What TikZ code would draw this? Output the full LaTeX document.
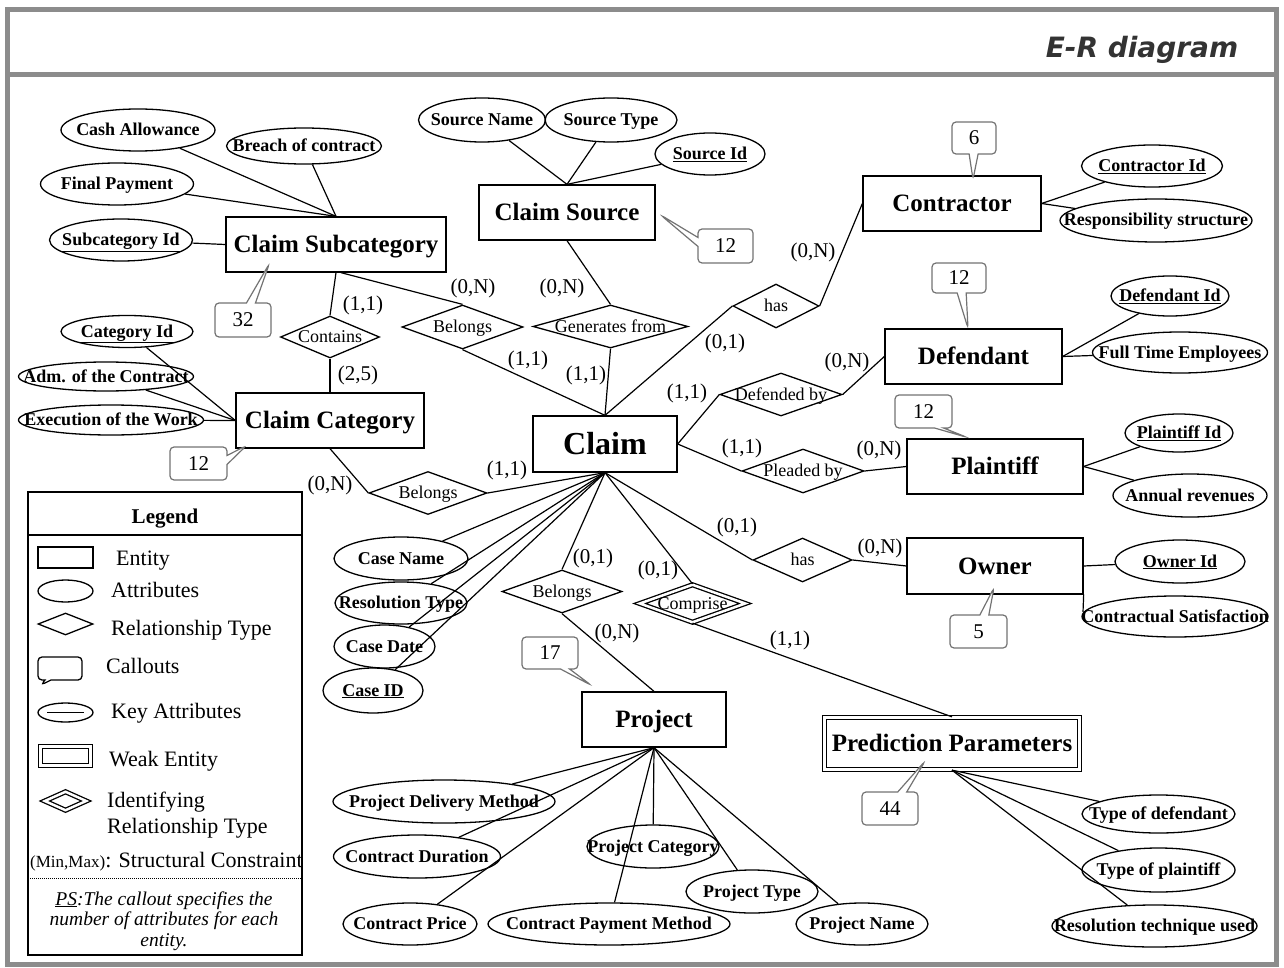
\documentclass[tikz,border=0pt]{standalone}
\usepackage{fontspec}
\setmainfont{Liberation Serif}
\newfontfamily\titlefont{DejaVu Sans}
\usetikzlibrary{shapes.geometric,shapes.callouts,calc}

% zero-width box: text may run over the outline of its shape
\newcommand\zw[1]{\makebox[0pt]{#1}}

\begin{document}
\begin{tikzpicture}[x=1pt,y=-1pt,
  every node/.style={inner sep=0pt},
  sz/.style 2 args={minimum width=#1pt, minimum height=#2pt},
  conn/.style={line width=1.2pt},
  entity/.style={draw, line width=1.3pt, rectangle,
    font=\fontsize{25}{28}\selectfont\bfseries, text height=17pt, text depth=1pt},
  weak/.style={entity, double, double distance=3pt},
  attr/.style={draw, line width=1.3pt, ellipse,
    font=\fontsize{18}{20}\selectfont\bfseries, text height=13pt, text depth=2pt},
  rel/.style={draw, line width=1.3pt, diamond,
    font=\fontsize{18}{20}\selectfont, text height=13pt, text depth=2pt},
  idrel/.style={rel, double, double distance=2.5pt},
  card/.style={font=\fontsize{21}{24}\selectfont},
  note/.style={rectangle callout, draw=black!55, line width=1.2pt, fill=white,
    rounded corners=4pt, callout pointer width=9pt,
    font=\fontsize{21}{24}\selectfont, text height=14pt, text depth=1pt},
  legtext/.style={anchor=base west, font=\fontsize{22}{24}\selectfont},
  pstext/.style={anchor=base, font=\fontsize{19.5}{19}\selectfont\itshape},
  frame/.style={draw=black!45, line width=5pt}
]
\useasboundingbox (0,0) rectangle (1284,968);

% ---------- frame and title ----------
\draw[frame] (7.5,10) rectangle (1276,964.5);
\draw[frame] (7.5,74.5) -- (1276,74.5);
\node[font=\titlefont\bfseries\itshape\fontsize{28}{30}\selectfont, text=black!80]
  (title) at (1142,50) {E-R diagram};

% ---------- entities ----------
\node[entity, sz={220}{55}] (cs)    at (336,244.5) {Claim Subcategory};
\node[entity, sz={188}{55}] (cc)    at (330,420.5) {Claim Category};
\node[entity, sz={176}{55}] (src)   at (567,212.5) {Claim Source};
\node[entity, sz={178}{55}] (con)   at (952,203.5) {Contractor};
\node[entity, sz={177}{55}] (def)   at (973.5,356.5) {Defendant};
\node[entity, sz={176}{55}] (pl)    at (995,466.5) {Plaintiff};
\node[entity, sz={176}{56}] (ow)    at (995,566) {Owner};
\node[entity, sz={144}{56}, font=\fontsize{32}{36}\selectfont\bfseries,
      text height=22pt] (claim) at (605,444) {Claim};
\node[entity, sz={144}{55}] (proj)  at (654,719.5) {Project};
\node[weak, sz={255}{52}]   (pp)    at (952,743.5) {Prediction Parameters};

% ---------- relationships ----------
\node[rel, sz={99}{42}]  (contains) at (330,337) {\zw{Contains}};
\node[rel, sz={121}{44}] (bel1)  at (462.5,327) {\zw{Belongs}};
\node[rel, sz={155}{43}] (gen)   at (610.5,326.5) {\zw{Generates from}};
\node[rel, sz={86}{44}]  (has1)  at (776,306) {\zw{has}};
\node[rel, sz={122}{43}] (defby) at (781,394.5) {\zw{Defended by}};
\node[rel, sz={122}{44}] (plby)  at (803,471) {\zw{Pleaded by}};
\node[rel, sz={99}{44}]  (has2)  at (802.5,560) {\zw{has}};
\node[rel, sz={118}{43}] (bel2)  at (428,493) {\zw{Belongs}};
\node[rel, sz={120}{43}] (bel3)  at (562,591.5) {\zw{Belongs}};
\node[idrel, sz={106}{38}] (comp) at (692.5,603.5) {\zw{Comprise}};

% ---------- attributes ----------
\node[attr, sz={154}{42}] (ca)   at (138,130) {\zw{Cash Allowance}};
\node[attr, sz={155}{36}] (bc)   at (304,146) {\zw{Breach of contract}};
\node[attr, sz={153}{42}] (fp)   at (117,184) {\zw{Final Payment}};
\node[attr, sz={143}{42}] (subid) at (121,240) {\zw{\underline{Subcategory Id}}};
\node[attr, sz={132}{32}] (catid) at (127,331.5) {\zw{\underline{Category Id}}};
\node[attr, sz={175}{29}] (adm)  at (106,376.5) {\zw{Adm. of the Contract}};
\node[attr, sz={185}{30}] (exw)  at (111,420) {\zw{Execution of the Work}};
\node[attr, sz={127}{44}] (sn)   at (482,120) {\zw{Source Name}};
\node[attr, sz={132}{44}] (st)   at (611,120) {\zw{Source Type}};
\node[attr, sz={110}{42}] (srcid) at (710,154) {\zw{\underline{Source Id}}};
\node[attr, sz={141}{42}] (conid) at (1152,166) {\zw{\underline{Contractor Id}}};
\node[attr, sz={192}{43}] (rs)   at (1156,220.5) {\zw{Responsibility structure}};
\node[attr, sz={118}{40}] (defid) at (1170,296) {\zw{\underline{Defendant Id}}};
\node[attr, sz={175}{41}] (fte)  at (1180,352.5) {\zw{Full Time Employees}};
\node[attr, sz={108}{38}] (plid) at (1179,433) {\zw{\underline{Plaintiff Id}}};
\node[attr, sz={154}{43}] (ar)   at (1190,495.5) {\zw{Annual revenues}};
\node[attr, sz={130}{43}] (owid) at (1180,561.5) {\zw{\underline{Owner Id}}};
\node[attr, sz={186}{41}] (cts)  at (1175,616.5) {\zw{Contractual Satisfaction}};
\node[attr, sz={134}{43}] (cn)   at (401,558.5) {\zw{Case Name}};
\node[attr, sz={132}{42}] (rt)   at (401,603) {\zw{Resolution Type}};
\node[attr, sz={101}{43}] (cdate) at (384.5,646.5) {\zw{Case Date}};
\node[attr, sz={100}{45}] (caseid) at (373,690.5) {\zw{\underline{Case ID}}};
\node[attr, sz={222}{43}] (pdm)  at (444,801.5) {\zw{Project Delivery Method}};
\node[attr, sz={167}{43}] (cdu)  at (417,856.5) {\zw{Contract Duration}};
\node[attr, sz={134}{42}] (cp)   at (410,924) {\zw{Contract Price}};
\node[attr, sz={242}{42}] (cpm)  at (609,924) {\zw{Contract Payment Method}};
\node[attr, sz={132}{43}] (pc)   at (653,846.5) {\zw{Project Category}};
\node[attr, sz={132}{43}] (pt)   at (752,891.5) {\zw{Project Type}};
\node[attr, sz={132}{42}] (pn)   at (862,924) {\zw{Project Name}};
\node[attr, sz={153}{38}] (tod)  at (1158.5,814) {\zw{Type of defendant}};
\node[attr, sz={153}{44}] (topl) at (1158.5,870) {\zw{Type of plaintiff}};
\node[attr, sz={205}{42}] (rtu)  at (1154.5,926) {\zw{Resolution technique used}};
\coordinate (ctsjoin) at (1083,612);

% ---------- connectors ----------
\begin{scope}[conn]
  % Claim Subcategory
  \draw (ca) -- (cs.north);
  \draw (bc) -- (cs.north);
  \draw (fp) -- (cs.north);
  \draw (subid) -- (cs.west);
  \draw (cs.south) -- (contains.north);
  \draw (contains.south) -- (cc.north);
  \draw (cs.-80) -- (bel1.north);
  \draw (bel1.south) -- (claim.north);
  % Claim Category
  \draw (catid) -- (cc.west);
  \draw (adm) -- (cc.west);
  \draw (exw) -- (cc.west);
  \draw (cc.south) -- (bel2.west);
  \draw (bel2.east) -- (claim.south);
  % Claim Source
  \draw (sn) -- (src.north);
  \draw (st) -- (src.north);
  \draw (srcid) -- (src.north);
  \draw (src.south) -- (gen.north);
  \draw (gen.south) -- (claim.north);
  % Contractor
  \draw (claim.north) -- (has1.west);
  \draw (has1.east) -- (con.west);
  \draw (con.east) -- (conid);
  \draw (con.east) -- (rs);
  % Defendant
  \draw (claim.east) -- (defby.west);
  \draw (defby.east) -- (def.west);
  \draw (def.east) -- (defid);
  \draw (def.east) -- (fte);
  % Plaintiff
  \draw (claim.east) -- (plby.west);
  \draw (plby.east) -- (pl.west);
  \draw (pl.east) -- (plid);
  \draw (pl.east) -- (ar);
  % Owner
  \draw (claim.south) -- (has2.west);
  \draw (has2.east) -- (ow.west);
  \draw (ow.east) -- (owid);
  \draw (ow.south east) -- (ctsjoin);
  % Claim attributes
  \draw (cn) -- (claim.south);
  \draw (rt) -- (claim.south);
  \draw (cdate) -- (claim.south);
  \draw (caseid) -- (claim.south);
  % Project
  \draw (claim.south) -- (bel3.north);
  \draw (bel3.south) -- (proj.north);
  \draw (proj.south) -- (pdm);
  \draw (proj.south) -- (cdu);
  \draw (proj.south) -- (cp);
  \draw (proj.south) -- (cpm);
  \draw (proj.south) -- (pc);
  \draw (proj.south) -- (pt);
  \draw (proj.south) -- (pn);
  % Prediction Parameters
  \draw (claim.south) -- (comp.north);
  \draw (comp.south) -- (pp.north);
  \draw (pp.south) -- (tod);
  \draw (pp.south) -- (topl);
  \draw (pp.south) -- (rtu);
\end{scope}

% ---------- structural constraints ----------
\node[card] (k1)  at (363,305) {(1,1)};
\node[card] (k2)  at (358,375) {(2,5)};
\node[card] (k3)  at (473,288) {(0,N)};
\node[card] (k4)  at (528,360) {(1,1)};
\node[card] (k5)  at (562,288) {(0,N)};
\node[card] (k6)  at (586,375) {(1,1)};
\node[card] (k7)  at (813,252) {(0,N)};
\node[card] (k8)  at (725,343) {(0,1)};
\node[card] (k9)  at (847,362) {(0,N)};
\node[card] (k10) at (687,393) {(1,1)};
\node[card] (k11) at (742,448) {(1,1)};
\node[card] (k12) at (879,450) {(0,N)};
\node[card] (k13) at (330,485) {(0,N)};
\node[card] (k14) at (507,470) {(1,1)};
\node[card] (k15) at (737,527) {(0,1)};
\node[card] (k16) at (880,548) {(0,N)};
\node[card] (k17) at (593,558) {(0,1)};
\node[card] (k18) at (658,570) {(0,1)};
\node[card] (k19) at (617,633) {(0,N)};
\node[card] (k20) at (790,640) {(1,1)};

% ---------- callouts: number of attributes ----------
\node[note, sz={56}{34}, callout absolute pointer={($(cs.south west)+(44,-9)$)}]
  (n32) at (243,320) {32};
\node[note, sz={55}{34}, callout absolute pointer={($(src.east)+(5,2.5)$)}]
  (n12a) at (725.5,246) {12};
\node[note, sz={44}{32}, callout absolute pointer={($(con.north)+(21,4)$)}]
  (n6) at (974,138) {6};
\node[note, sz={54}{30}, callout absolute pointer={($(def.north)+(-5.5,0)$)}]
  (n12b) at (959,278) {12};
\node[note, sz={57}{33}, callout absolute pointer={($(pl.north)+(-28,-1)$)}]
  (n12c) at (923.5,411.5) {12};
\node[note, sz={57}{33}, callout absolute pointer={($(cc.south west)+(11,-3)$)}]
  (n12d) at (198.5,463.5) {12};
\node[note, sz={57}{33}, callout absolute pointer={($(ow.south)+(-1,-7)$)}]
  (n5) at (978.5,631.5) {5};
\node[note, sz={56}{32}, callout absolute pointer={($(proj.north west)+(10,-6)$)}]
  (n17) at (550,653) {17};
\node[note, sz={56}{33}, callout absolute pointer={($(pp.south)+(-27,-9)$)}]
  (n44) at (890,808.5) {44};

% ---------- legend ----------
\draw[line width=1.3pt] (28,492) rectangle (302,955);
\draw[line width=1.3pt] (28,535) -- (302,535);
\draw[line width=1pt, densely dotted] (28,878) -- (302,878);
\node[anchor=base, font=\fontsize{21}{24}\selectfont\bfseries] (lgtitle) at (165,523) {Legend};

\node[draw, line width=1.3pt, rectangle, sz={55}{21}] (ic1) at (65.5,557.5) {};
\node[legtext] (lt1) at (116,565) {Entity};
\node[draw, line width=1.3pt, ellipse, sz={55}{22}] (ic2) at (65.5,591) {};
\node[legtext] (lt2) at (111,597) {Attributes};
\node[draw, line width=1.3pt, diamond, sz={55}{22}] (ic3) at (65.5,624) {};
\node[legtext] (lt3) at (111,635) {Relationship Type};
\coordinate (ic4tip) at (41,685);
\node[rectangle callout, draw, line width=1.3pt, rounded corners=4pt,
      callout pointer width=6pt, callout absolute pointer={(ic4tip)},
      sz={44}{23}] (ic4) at (60,668.5) {};
\node[legtext] (lt4) at (106,673) {Callouts};
\node[draw, line width=1.3pt, ellipse, sz={55}{19}] (ic5) at (65.5,712.5) {};
\draw[line width=1.2pt] ($(ic5.west)+(10,0)$) -- ($(ic5.east)+(-10,0)$);
\node[legtext] (lt5) at (111,718) {Key Attributes};
\node[draw, line width=1.3pt, rectangle, double, double distance=2.5pt, sz={50}{19}]
  (ic6) at (65.5,756) {};
\node[legtext] (lt6) at (109,766) {Weak Entity};
\node[draw, line width=1.3pt, diamond, double, double distance=2.5pt, sz={42}{19}]
  (ic7) at (65.5,801) {};
\node[legtext] (lt7) at (107,807) {Identifying};
\node[legtext] (lt7b) at (107,833) {Relationship Type};
\node[legtext] (lt8) at (30,867) {{\fontsize{17}{20}\selectfont(Min,Max)}: Structural Constraint};
\node[pstext] (ps1) at (164,905) {\underline{PS}:The callout specifies the};
\node[pstext] (ps2) at (164,925.5) {number of attributes for each};
\node[pstext] (ps3) at (164,946) {entity.};

\end{tikzpicture}
\end{document}
